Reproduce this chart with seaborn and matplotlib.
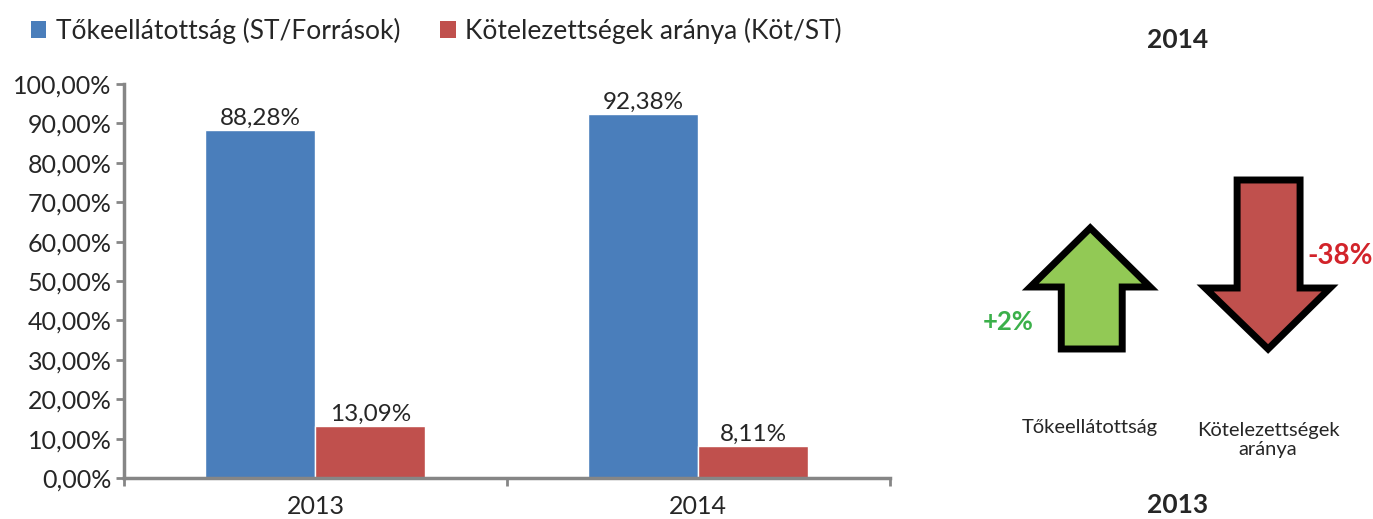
import numpy as np
import pandas as pd
import matplotlib
matplotlib.use("Agg")
import matplotlib.pyplot as plt
import seaborn as sns
from matplotlib.patches import Polygon, Patch

years = ["2013", "2014"]
series = ["Tőkeellátottság (ST/Források)", "Kötelezettségek aránya (Köt/ST)"]
tokeellatottsag = [88.28, 92.38]
kotelezettsegek = [13.09, 8.11]
change_labels = ["+2%", "-38%"]
change_names = ["Tőkeellátottság", "Kötelezettségek\naránya"]

bar_colors = ["#4A7EBB", "#C0504D"]
axis_grey = "#868686"
text_col = "#262626"

df = pd.DataFrame({
    "year": years * 2,
    "series": [series[0]] * 2 + [series[1]] * 2,
    "value": tokeellatottsag + kotelezettsegek,
})

sns.set_theme(style="white")
plt.rcParams["font.family"] = ["Lato", "DejaVu Sans"]

fig = plt.figure(figsize=(13.73, 5.19), dpi=100)
ax = fig.add_axes([0.0903, 0.079, 0.5577, 0.759])

sns.barplot(data=df, x="year", y="value", hue="series", palette=bar_colors,
            width=0.575, saturation=1, ax=ax, legend=False)

for cont in ax.containers:
    ax.bar_label(cont, labels=[f"{v:.2f}%".replace(".", ",") for v in cont.datavalues],
                 padding=1, fontsize=17.5, color=text_col)

ax.set_xlim(-0.5, 1.5)
ax.set_ylim(0, 100)
ax.set_yticks(np.arange(0, 101, 10))
ax.set_yticklabels([f"{v:.2f}%".replace(".", ",") for v in np.arange(0, 101, 10)],
                   fontsize=18, color=text_col)
ax.set_xticks([-0.5, 0.5, 1.5])
ax.set_xticklabels([])
ax.set_xticks([0, 1], minor=True)
ax.set_xticklabels(years, minor=True, fontsize=18, color=text_col)
ax.tick_params(axis="x", which="minor", length=0, pad=12)
ax.tick_params(axis="both", which="major", length=6, width=2, color=axis_grey,
               direction="out", bottom=True, left=True, pad=3)
ax.set_xlabel("")
ax.set_ylabel("")
for side in ["top", "right"]:
    ax.spines[side].set_visible(False)
for side in ["left", "bottom"]:
    ax.spines[side].set_color(axis_grey)
    ax.spines[side].set_linewidth(2.5)

handles = [Patch(facecolor=c, edgecolor="none") for c in bar_colors]
fig.legend(handles, series, loc="upper left", bbox_to_anchor=(0.005, 1.012), ncol=2,
           frameon=False, fontsize=19, handlelength=0.6, handleheight=0.6,
           columnspacing=1.5, handletextpad=0.35, labelcolor=text_col)

# right panel with arrows (pixel coordinates)
rx = fig.add_axes([0.69, 0, 0.31, 1])
rx.set_xlim(947, 1373)
rx.set_ylim(519, 0)
rx.axis("off")

up = [(1090, 228), (1150, 287), (1122, 287), (1122, 349), (1061, 349), (1061, 287), (1030, 287)]
down = [(1237, 180), (1300, 180), (1300, 288), (1330, 288), (1268, 349), (1205, 288), (1237, 288)]
rx.add_patch(Polygon(up, closed=True, facecolor="#92C955", edgecolor="black", linewidth=5,
                     joinstyle="miter"))
rx.add_patch(Polygon(down, closed=True, facecolor="#C0504D", edgecolor="black", linewidth=5,
                     joinstyle="miter"))

rx.text(1177, 40, "2014", ha="center", va="center", fontsize=19, fontweight="bold", color=text_col)
rx.text(1177, 505, "2013", ha="center", va="center", fontsize=19, fontweight="bold", color=text_col)
rx.text(1008, 322, change_labels[0], ha="center", va="center", fontsize=18.5,
        fontweight="bold", color="#3BB04A")
rx.text(1340, 256, change_labels[1], ha="center", va="center", fontsize=20,
        fontweight="bold", color="#D2232A")
rx.text(1090, 428, change_names[0], ha="center", va="center", fontsize=14.5, color=text_col)
rx.text(1268, 440, change_names[1], ha="center", va="center", fontsize=14.5, color=text_col,
        linespacing=1.1)

fig.savefig("out.png", dpi=100)
